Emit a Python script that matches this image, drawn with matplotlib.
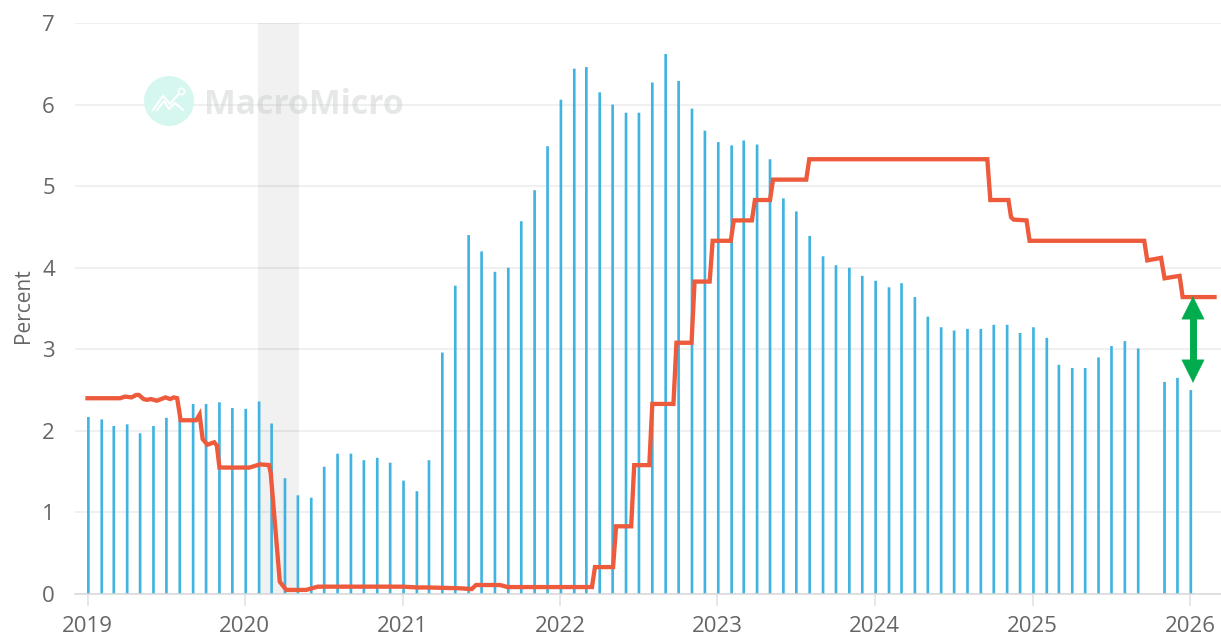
#!/usr/bin/env python3

"""Monthly bars against a stepped policy rate line, 2019 to early 2026."""

import matplotlib
matplotlib.use("Agg")
import matplotlib.pyplot as plt
import matplotlib.dates as mdates
from matplotlib.patches import Circle
from matplotlib.lines import Line2D
from matplotlib.transforms import IdentityTransform
import pandas as pd

plt.rcParams["font.family"] = ["Open Sans", "DejaVu Sans"]

# Monthly bars, Jan 2019 onwards (Oct 2025 has no value)
bar_start = "2019-01-01"
bar_values = [
    2.17, 2.14, 2.06, 2.08, 1.97, 2.06, 2.16, 2.28, 2.33, 2.33, 2.35, 2.28,
    2.27, 2.36, 2.09, 1.42, 1.21, 1.18, 1.56, 1.72, 1.72, 1.64, 1.67, 1.61,
    1.39, 1.26, 1.64, 2.96, 3.78, 4.40, 4.20, 3.95, 4.00, 4.57, 4.95, 5.49,
    6.06, 6.44, 6.46, 6.15, 6.00, 5.90, 5.90, 6.27, 6.62, 6.29, 5.95, 5.68,
    5.54, 5.50, 5.56, 5.51, 5.33, 4.85, 4.69, 4.39, 4.14, 4.03, 4.00, 3.90,
    3.84, 3.76, 3.81, 3.64, 3.40, 3.27, 3.23, 3.25, 3.25, 3.30, 3.30, 3.20,
    3.27, 3.14, 2.81, 2.77, 2.77, 2.90, 3.04, 3.10, 3.01, None, 2.60, 2.65,
    2.50,
]

# Rate line, vertices
line_dates = [
    "2019-01-01", "2019-03-18", "2019-03-29", "2019-04-13", "2019-04-24",
    "2019-04-30", "2019-05-11", "2019-05-19", "2019-05-28", "2019-06-11",
    "2019-07-01", "2019-07-12", "2019-07-20", "2019-07-28", "2019-08-05",
    "2019-09-10", "2019-09-18", "2019-09-25", "2019-10-06", "2019-10-22",
    "2019-10-28", "2019-11-03", "2020-01-12", "2020-02-05", "2020-02-26",
    "2020-03-01", "2020-03-22", "2020-04-06", "2020-05-22", "2020-06-18",
    "2020-10-15", "2021-01-01", "2021-02-05", "2021-03-01", "2021-05-15",
    "2021-06-10", "2021-06-20", "2021-08-15", "2021-09-01", "2022-03-16",
    "2022-03-23", "2022-05-04", "2022-05-11", "2022-06-15", "2022-06-22",
    "2022-07-27", "2022-08-03", "2022-09-21", "2022-09-28", "2022-11-02",
    "2022-11-09", "2022-12-14", "2022-12-21", "2023-02-01", "2023-02-08",
    "2023-03-22", "2023-03-29", "2023-05-03", "2023-05-10", "2023-07-26",
    "2023-08-02", "2024-09-18", "2024-09-25", "2024-11-06", "2024-11-12",
    "2024-11-18", "2024-12-18", "2024-12-25", "2025-09-17", "2025-09-24",
    "2025-10-26", "2025-11-03", "2025-12-08", "2025-12-15", "2026-02-27",
]
line_values = [
    2.40, 2.40, 2.42, 2.41, 2.44,
    2.44, 2.39, 2.38, 2.39, 2.37,
    2.41, 2.39, 2.41, 2.40, 2.13,
    2.13, 2.20, 1.90, 1.83, 1.86,
    1.82, 1.55, 1.55, 1.59, 1.58,
    1.48, 0.15, 0.05, 0.05, 0.09,
    0.09, 0.09, 0.08, 0.08, 0.07,
    0.06, 0.11, 0.11, 0.085, 0.085,
    0.33, 0.33, 0.83, 0.83, 1.58,
    1.58, 2.33, 2.33, 3.08, 3.08,
    3.83, 3.83, 4.33, 4.33, 4.58,
    4.58, 4.83, 4.83, 5.08, 5.08,
    5.33, 5.33, 4.83, 4.83, 4.62,
    4.59, 4.58, 4.33, 4.33, 4.09,
    4.12, 3.87, 3.90, 3.64, 3.64,
]

band_start, band_end = "2020-02-01", "2020-05-05"
arrow_date = "2026-01-08"
arrow_top, arrow_bottom = 3.65, 2.59

year_ticks = [str(y) for y in range(2019, 2027)]
y_ticks = list(range(0, 8))

# Bars sit a touch right of the month start in the original
bar_dates = pd.date_range(bar_start, periods=len(bar_values), freq="MS") + pd.Timedelta(days=2)
bar_heights = [0 if v is None else v for v in bar_values]
line_x = pd.to_datetime(line_dates)

fig = plt.figure(figsize=(12.21, 6.34), dpi=100)
ax = fig.add_axes([75 / 1221, 40 / 634, 1146 / 1221, 571 / 634])

# Grid first, then the grey band over it
ax.set_axisbelow(True)
ax.grid(axis="y", color="#ececec", linewidth=1.1)
ax.axvspan(pd.Timestamp(band_start), pd.Timestamp(band_end), color="black",
           alpha=0.055, linewidth=0, zorder=1)

bars = ax.bar(bar_dates, bar_heights, width=6.2, color="#41b3e0", zorder=2)
for bar in bars:
    bar.set_snap(False)
ax.plot(line_x, line_values, color="#ee5a3c", linewidth=3.1, zorder=3,
        solid_joinstyle="miter")

# Green double arrow: shaft and two heads
arrow_x = mdates.date2num(pd.Timestamp(arrow_date))
arrow_mid = (arrow_top + arrow_bottom) / 2
ax.plot([arrow_x, arrow_x], [arrow_top - 0.2, arrow_bottom + 0.2], color="#00ac4e",
        linewidth=5, solid_capstyle="butt", zorder=4)
for tip in (arrow_top, arrow_bottom):
    ax.annotate("", xy=(arrow_x, tip), xytext=(arrow_x, arrow_mid),
                arrowprops=dict(arrowstyle="-|>,head_length=16,head_width=8",
                                mutation_scale=1, color="#00ac4e", lw=0.4,
                                shrinkA=0, shrinkB=0), zorder=4)

ax.set_ylim(0, 7)
ax.set_xlim(pd.Timestamp("2018-12-03"), pd.Timestamp("2026-03-14"))
ax.set_yticks(y_ticks)
ax.set_xticks(pd.to_datetime([y + "-01-01" for y in year_ticks]))
ax.set_xticklabels(year_ticks)

ax.tick_params(axis="y", length=0, pad=14.5, labelsize=16, labelcolor="#666666")
ax.tick_params(axis="x", length=8.6, width=1.1, color="#e0e0e0", pad=7.3,
               labelsize=16, labelcolor="#666666")

for side in ("top", "right", "left"):
    ax.spines[side].set_visible(False)
ax.spines["bottom"].set_color("#d8d8d8")
ax.spines["bottom"].set_linewidth(1.1)

ax.set_ylabel("Percent", fontsize=15, color="#666666")
ax.yaxis.set_label_coords(-41 / 1146, 0.505)

# Watermark, placed in figure pixels
fig_h = 634
fig.add_artist(Circle((169, fig_h - 101), 25, facecolor="#d6f7f0", edgecolor="none",
                      transform=IdentityTransform()))
logo_x = [153, 163, 170, 176, 181]
logo_y = [110, 96, 104, 97, 92]
fig.add_artist(Line2D(logo_x, [fig_h - v for v in logo_y], color="white", linewidth=1.5,
                      transform=IdentityTransform()))
fig.add_artist(Line2D([181], [fig_h - 91], marker="o", markersize=4.5, markerfacecolor="#d6f7f0",
                      markeredgecolor="white", markeredgewidth=1.2, transform=IdentityTransform()))
fig.add_artist(Line2D([157, 164, 169, 175, 183], [fig_h - v for v in [110, 101, 109, 103, 110]],
                      color="white", linewidth=1.5, transform=IdentityTransform()))
fig.text(204 / 1221, 1 - 105 / fig_h, "MacroMicro", fontsize=24.3, fontweight="bold",
         color="#c9cdcd", alpha=0.45, ha="left", va="center")

plt.savefig("out.png", dpi=100)
